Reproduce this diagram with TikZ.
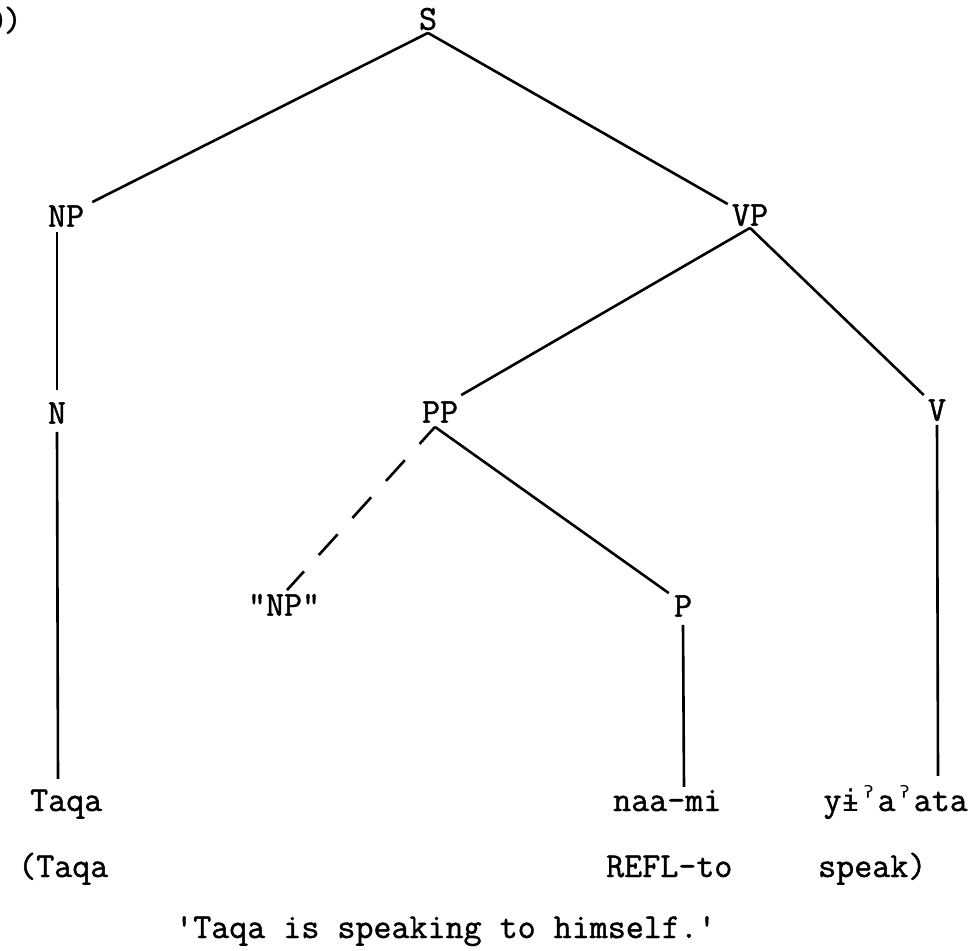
\documentclass[tikz,border=0pt]{standalone}
\usepackage{fontspec}
\newfontfamily\twfont{Latin Modern Mono}[FakeBold=1.2]
\newfontfamily\ipafont{DejaVu Sans Mono}
\newcommand{\ipa}[1]{{\ipafont\fontsize{30}{36}\selectfont #1}}
\begin{document}
\begin{tikzpicture}[x=1pt,y=-1pt,
  every node/.style={font=\fontsize{35}{40}\selectfont\twfont, inner sep=0pt},
  cat/.style={text height=21.4pt, text depth=0pt, anchor=center},
  word/.style={text height=22pt, text depth=7pt, anchor=base west},
  branch/.style={line width=2.6pt},
  dashbranch/.style={line width=2.6pt, dash pattern=on 28pt off 22pt, dash phase=5pt}]
\useasboundingbox (0,0) rectangle (971,950);
\fill[white] (0,0) rectangle (971,950);
% example number (cut at the left edge)
\node[anchor=base east] (num) at (22,31) {0)};
% category labels
\node[cat] (S)   at (428,19)  {S};
\node[cat] (NP)  at (66,216)  {NP};
\node[cat] (VP)  at (750,215) {VP};
\node[cat] (N)   at (57,413)  {N};
\node[cat] (PP)  at (440,412) {PP};
\node[cat] (V)   at (937,410) {V};
\node[cat] (qNP) at (284,605) {\char"22 NP\char"22};
\node[cat] (P)   at (683,606) {P};
% words
\node[word] (taqa)  at (30,811)  {Taqa};
\node[word] (naami) at (613,811) {naa-mi};
\node[word, anchor=base east] (yi) at (968,811) {y\ipa{ɨˀ}a\ipa{ˀ}ata};
% glosses
\node[word] (gtaqa) at (18,877)  {(Taqa};
\node[word] (grefl) at (606,877) {REFL-to};
\node[word] (gspk)  at (818,877) {speak)};
% translation
\node[word] (trans) at (175,938) {\char"27 Taqa is speaking to himself.\char"27};
% branches
\draw[branch] ([yshift=-3pt]S.south) -- ([xshift=8pt,yshift=3pt]NP.north east);
\draw[branch] ([yshift=-3pt]S.south) -- ([xshift=-4pt]VP.north west);
\draw[branch] ([xshift=-9pt,yshift=-5pt]NP.south) -- ([yshift=12pt]N.north);
\draw[branch] ([yshift=-8pt]N.south) -- ([xshift=1pt,yshift=10pt]N.south |- taqa.north);
\draw[branch] ([yshift=-2pt]VP.south) -- ([xshift=3pt,yshift=6pt]PP.north east);
\draw[branch] ([yshift=-2pt]VP.south) -- ([xshift=-4pt,yshift=4pt]V.north west);
\draw[dashbranch] ([xshift=-5pt,yshift=-4pt]PP.south) -- ([xshift=3pt,yshift=4pt]qNP.north);
\draw[branch] ([xshift=-5pt,yshift=-4pt]PP.south) -- ([xshift=-5pt,yshift=2pt]P.north west);
\draw[branch] ([yshift=-8pt]P.south) -- ([xshift=1pt,yshift=2pt]P.south |- naami.north);
\draw[branch] ([yshift=-4pt]V.south) -- ([xshift=1pt,yshift=13pt]V.south |- yi.north);
\end{tikzpicture}
\end{document}
